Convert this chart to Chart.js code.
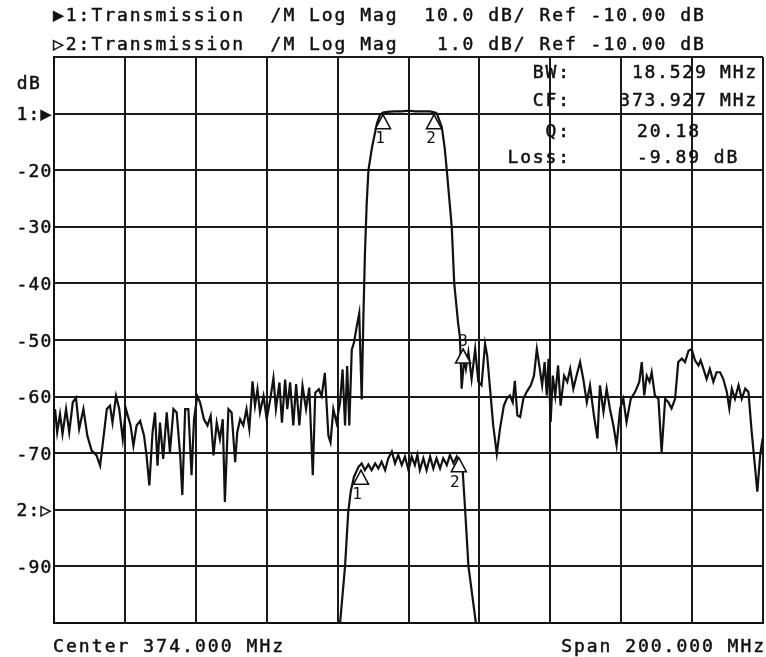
<!DOCTYPE html>
<html><head><meta charset="utf-8">
<script src="https://cdn.jsdelivr.net/npm/chart.js@4/dist/chart.umd.min.js"></script>
<style>html,body{margin:0;padding:0;background:#fff;}#wrap{width:766px;height:657px;}</style>
</head><body><div id="wrap"><canvas id="c" width="766" height="657"></canvas></div>
<script>
// Trace 1: 10 dB/div, ref -10 dB (frequency in MHz, magnitude in dB)
const freq1 = [274.3,274.9,275.7,276.4,277.4,278.3,279.3,280.2,281.1,282.3,283.4,284.6,286.0,287.0,287.9,288.9,289.8,290.5,291.5,292.4,293.4,294.3,295.6,296.4,297.3,298.3,299.4,300.1,300.9,301.8,302.5,303.2,303.9,304.8,305.8,306.7,307.7,308.6,309.6,310.2,311.0,311.9,312.8,313.5,314.4,315.2,316.3,317.3,318.2,319.0,319.9,320.8,321.6,322.2,323.2,324.1,325.1,325.7,326.5,327.4,328.3,329.1,330.0,330.7,331.4,332.1,333.1,334.0,335.0,335.9,336.6,337.6,338.3,339.2,339.8,340.6,341.5,342.3,343.2,344.1,345.1,346.0,347.0,347.7,348.7,349.5,350.4,351.4,352.0,352.8,353.7,354.7,355.4,356.1,356.7,357.3,358.0,358.6,359.4,360.1,360.8,361.3,361.7,362.2,362.7,363.7,365.1,366.0,366.8,368.0,370.0,372.0,374.0,376.0,378.0,380.0,381.5,382.0,383.4,384.2,384.8,386.2,386.9,388.0,388.5,389.0,389.7,390.2,390.9,391.8,392.8,393.7,394.6,395.6,396.2,397.0,397.9,398.9,399.8,400.9,401.7,402.6,403.4,404.0,404.7,405.5,406.4,407.3,408.5,409.4,410.2,410.9,411.7,412.4,413.0,413.5,414.1,414.7,415.4,416.2,416.9,417.9,418.8,419.6,420.5,421.4,422.4,423.3,424.3,425.2,426.3,427.3,428.0,429.0,429.9,430.8,431.8,432.7,433.7,434.6,435.5,436.7,437.9,439.1,439.8,440.5,441.2,442.0,442.6,443.5,444.5,445.4,446.4,447.3,448.2,449.2,450.1,451.1,452.0,453.0,453.9,454.8,455.8,456.4,457.2,458.1,459.0,460.0,460.9,461.9,462.8,463.8,464.5,465.2,466.1,467.1,468.0,469.0,469.9,470.8,471.7,472.4,473.2,473.9];
const db1 = [-62.2,-66.3,-63.1,-66.6,-62.2,-66.3,-61.0,-60.2,-65.7,-62.2,-66.9,-69.5,-70.4,-72.2,-67.5,-62.2,-61.6,-64.6,-59.9,-62.2,-67.5,-62.2,-65.1,-68.7,-65.1,-64.3,-66.9,-70.4,-75.7,-66.3,-62.8,-72.2,-64.6,-71.0,-62.8,-69.8,-62.2,-62.8,-70.4,-77.4,-62.2,-62.2,-73.9,-64.0,-59.9,-61.0,-64.0,-65.1,-63.4,-70.4,-64.6,-67.5,-64.0,-78.6,-62.2,-62.8,-71.6,-66.3,-64.0,-65.1,-62.2,-65.7,-57.3,-61.6,-58.7,-62.8,-59.9,-64.0,-60.5,-56.7,-62.2,-57.5,-64.6,-57.0,-62.2,-57.5,-65.1,-57.8,-65.1,-58.1,-62.2,-58.4,-73.9,-59.3,-58.7,-59.9,-55.8,-66.9,-68.1,-62.2,-64.6,-61.0,-55.2,-65.1,-54.6,-65.1,-51.7,-50.5,-47.6,-45.3,-60.5,-45.3,-35.0,-26.0,-20.0,-16.0,-11.7,-10.2,-9.8,-9.7,-9.6,-9.6,-9.5,-9.6,-9.6,-9.6,-9.8,-10.0,-12.4,-16.0,-20.0,-30.0,-40.0,-47.0,-49.5,-58.6,-53.3,-55.1,-52.2,-56.9,-51.6,-57.4,-58.0,-50.7,-52.8,-58.6,-65.1,-70.1,-65.7,-61.6,-60.4,-59.8,-61.0,-57.2,-63.3,-63.6,-60.4,-59.2,-58.0,-56.3,-51.6,-54.5,-58.0,-53.9,-59.8,-53.3,-64.5,-56.3,-59.8,-54.5,-61.6,-56.3,-57.4,-55.1,-58.6,-56.3,-53.9,-56.9,-61.0,-58.0,-63.3,-67.4,-58.0,-62.7,-58.6,-62.1,-65.1,-68.6,-62.1,-60.4,-64.5,-60.4,-59.2,-57.4,-53.9,-59.8,-56.3,-57.4,-55.7,-59.8,-60.4,-69.8,-60.4,-61.0,-62.1,-60.4,-53.9,-53.3,-53.9,-51.9,-51.6,-53.6,-54.5,-53.6,-55.1,-56.9,-55.1,-57.4,-55.7,-55.7,-56.9,-59.2,-62.1,-58.6,-60.4,-58.0,-60.4,-58.6,-59.2,-66.2,-72.1,-76.8,-70.4,-67.4];
// Trace 2: 1 dB/div, ref -10 dB (shown clipped at the bottom of the grid)
const freq2 = [274.0,354.7,356.1,357.0,357.7,358.6,359.9,360.8,361.7,362.7,363.6,364.6,365.5,366.4,367.4,368.3,369.3,370.2,371.1,372.1,373.0,374.0,374.9,375.8,376.5,377.2,378.2,379.1,380.1,381.0,381.9,382.9,383.8,384.8,385.7,386.7,387.6,388.5,389.3,389.9,390.9,393.0,474.0];
const db2 = [-12.0,-12.0,-11.0,-10.04,-9.68,-9.42,-9.24,-9.18,-9.3,-9.2,-9.3,-9.18,-9.27,-9.15,-9.3,-9.09,-8.97,-9.18,-9.03,-9.21,-9.06,-9.3,-9.06,-9.21,-9.03,-9.3,-9.09,-9.3,-9.06,-9.27,-9.09,-9.27,-9.09,-9.21,-9.03,-9.18,-9.06,-9.21,-9.33,-9.92,-10.99,-12.0,-12.0];

const yTickValues = [-10,-20,-30,-40,-50,-60,-70,-80,-90];
const yTickLabels = ['1:\u25B6','-20','-30','-40','-50','-60','-70','2:\u25B7','-90'];
const header1 = '\u25B61:Transmission  /M Log Mag  10.0 dB/ Ref -10.00 dB';
const header2 = '\u25B72:Transmission  /M Log Mag   1.0 dB/ Ref -10.00 dB';
const footerLeft = 'Center 374.000 MHz';
const footerRight = 'Span 200.000 MHz';
const readoutLabels = ['BW:','CF:','Q:','Loss:'];
const readoutValues = ['18.529 MHz','373.927 MHz','20.18','-9.89 dB'];
const marker1Freq = [366.8, 381.2, 389.4];
const marker1Db = [-10.2, -10.2, -51.6];
const marker1Labels = ['1','2','3'];
const marker2Freq = [360.6, 388.2];
const marker2Db = [-9.30, -9.08];
const marker2Labels = ['1','2'];

const INK = '#111';
const FONT = '18px "DejaVu Sans Mono", "Liberation Mono", monospace';

function mono(ctx, text, x, y, pitch, align) {
  const chars = Array.from(text);
  let start = x;
  if (align === 'right') start = x - chars.length * pitch;
  ctx.textAlign = 'center';
  chars.forEach((ch, i) => {
    if (ch === ' ') return;
    const cx = start + i * pitch + pitch / 2;
    ctx.fillText(ch, cx, y);
    ctx.strokeText(ch, cx, y);
  });
}

const textPlugin = {
  id: 'instrumentText',
  beforeDraw(chart) {
    const c = chart.ctx; c.save(); c.fillStyle = '#fff'; c.fillRect(0, 0, chart.width, chart.height); c.restore();
  },
  afterDatasetsDraw(chart) {
    const c = chart.ctx, xs = chart.scales.x, y1 = chart.scales.y, y2 = chart.scales.y2;
    c.save();
    c.strokeStyle = INK; c.fillStyle = INK; c.lineWidth = 1.6;
    c.font = '16px "DejaVu Sans Mono", monospace'; c.textBaseline = 'middle'; c.textAlign = 'center';
    const tri = (px, py) => {
      c.beginPath(); c.moveTo(px, py); c.lineTo(px - 7.5, py + 14); c.lineTo(px + 7.5, py + 14); c.closePath();
      c.fillStyle = '#fff'; c.fill(); c.stroke(); c.fillStyle = INK;
    };
    marker1Freq.forEach((f, i) => {
      const px = xs.getPixelForValue(f), py = y1.getPixelForValue(marker1Db[i]);
      tri(px, py);
      if (marker1Labels[i] === '3') c.fillText(marker1Labels[i], px, py - 7);
      else c.fillText(marker1Labels[i], px - 3, py + 24);
    });
    marker2Freq.forEach((f, i) => {
      const px = xs.getPixelForValue(f), py = y2.getPixelForValue(marker2Db[i]);
      tri(px, py);
      c.fillText(marker2Labels[i], px - 4, py + 25);
    });
    c.restore();
  },
  afterDraw(chart) {
    const c = chart.ctx, y1 = chart.scales.y;
    c.save();
    c.fillStyle = INK; c.strokeStyle = INK; c.lineWidth = 0.5; c.font = FONT; c.textBaseline = 'alphabetic';
    mono(c, header1, 52, 21, 12.8);
    mono(c, header2, 52, 50, 12.8);
    mono(c, 'dB', 16, 89, 12.2);
    yTickValues.forEach((v, i) => { mono(c, yTickLabels[i], 52, y1.getPixelForValue(v) + 6.5, 12.0, 'right'); });
    mono(c, footerLeft, 52, 652, 12.9);
    mono(c, footerRight, 765, 652, 12.8, 'right');
    const rowY = [78, 106, 137, 163];
    readoutLabels.forEach((t, i) => mono(c, t, 570, rowY[i], 12.7, 'right'));
    mono(c, readoutValues[0], 757, rowY[0], 12.6, 'right');
    mono(c, readoutValues[1], 757, rowY[1], 12.6, 'right');
    mono(c, readoutValues[2], 636, rowY[2], 12.8);
    mono(c, readoutValues[3], 636, rowY[3], 12.8);
    c.restore();
  }
};

const ds = (fs, vs, axis) => ({
  data: fs.map((f, i) => ({ x: f, y: vs[i] })), yAxisID: axis,
  borderColor: INK, borderWidth: 2.2, pointRadius: 0, tension: 0, fill: false, clip: 4
});

const gridCfg = { color: '#1a1a1a', lineWidth: 2, drawTicks: false };
new Chart(document.getElementById('c').getContext('2d'), {
  type: 'line',
  data: { datasets: [ds(freq1, db1, 'y'), ds(freq2, db2, 'y2')] },
  options: {
    responsive: false, animation: false, devicePixelRatio: 1,
    layout: { padding: { left: 54, top: 57, right: 3, bottom: 34 } },
    plugins: { legend: { display: false }, tooltip: { enabled: false } },
    scales: {
      x: { type: 'linear', min: 274, max: 474, ticks: { display: false, stepSize: 20 }, grid: gridCfg, border: { display: true, color: INK, width: 2 } },
      y: { type: 'linear', min: -100, max: 0, ticks: { display: false, stepSize: 10 }, grid: gridCfg, border: { display: true, color: INK, width: 2 } },
      y2: { type: 'linear', display: false, min: -12, max: -2 }
    }
  },
  plugins: [textPlugin]
});
</script></body></html>
